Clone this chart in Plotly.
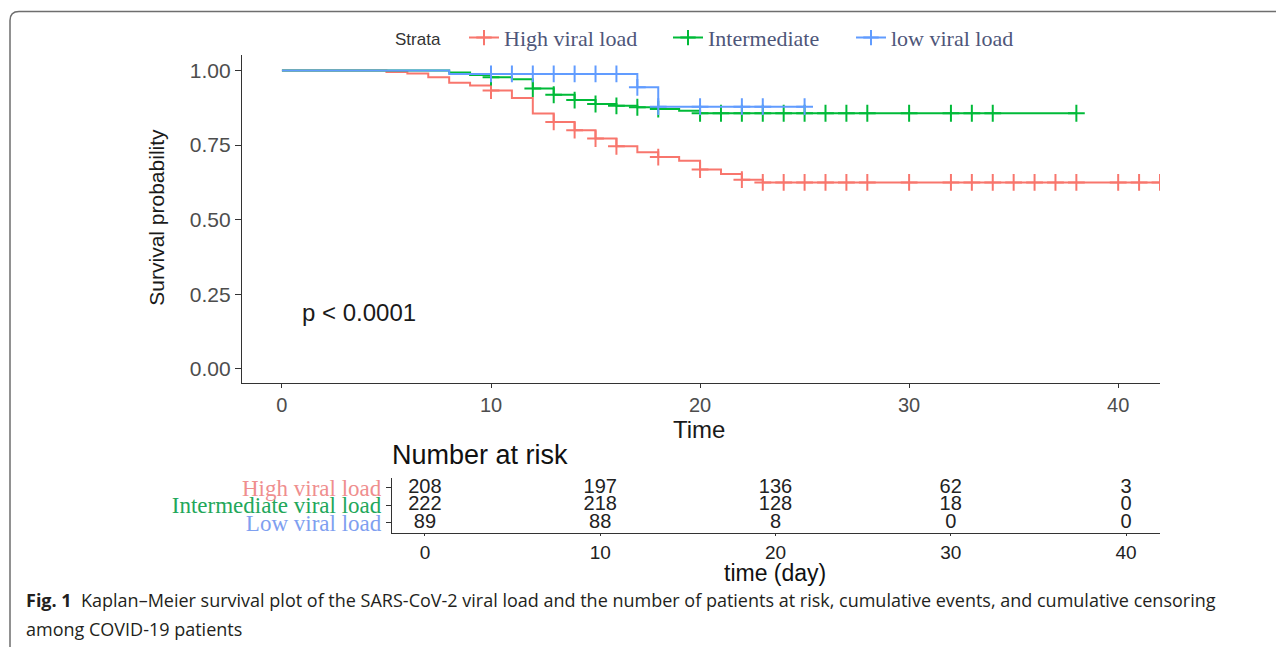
import plotly.graph_objects as go

# ---------------- data ----------------
groups = ["High viral load", "Intermediate", "low viral load"]
table_labels = ["High viral load", "Intermediate viral load", "Low viral load"]
colors = ["#F8766D", "#00BA38", "#619CFF"]
label_colors = ["#EF8E8E", "#22A75A", "#7FA0F0"]

high_event_t = [5, 6, 7, 8, 9, 10, 11, 12, 13, 14, 15, 16, 17, 18, 19, 20, 21, 22, 23]
high_event_s = [0.995, 0.990, 0.978, 0.959, 0.950, 0.933, 0.908, 0.856, 0.828, 0.800,
                0.772, 0.746, 0.726, 0.710, 0.698, 0.668, 0.653, 0.634, 0.625]
high_censor_t = [10, 13, 14, 15, 16, 18, 20, 22, 23, 24, 25, 26, 27, 28, 30, 32, 33, 34,
                 35, 36, 37, 38, 40, 41, 42]

int_event_t = [8, 9, 10, 11, 12, 13, 14, 15, 16, 17, 18, 19, 20]
int_event_s = [0.994, 0.985, 0.978, 0.971, 0.940, 0.919, 0.901, 0.888, 0.882, 0.877,
               0.871, 0.865, 0.857]
int_censor_t = [10, 12, 13, 14, 15, 16, 17, 18, 20, 21, 22, 23, 24, 25, 26, 27, 28, 30,
                32, 33, 34, 38]

low_event_t = [8, 17, 18]
low_event_s = [0.989, 0.944, 0.879]
low_censor_t = [10, 11, 12, 13, 14, 15, 16, 17, 18, 20, 22, 23, 25]

risk_times = [0, 10, 20, 30, 40]
risk_high = [208, 197, 136, 62, 3]
risk_int = [222, 218, 128, 18, 0]
risk_low = [89, 88, 8, 0, 0]

p_text = "p < 0.0001"
caption1 = "<b>Fig. 1</b>  Kaplan–Meier survival plot of the SARS-CoV-2 viral load and the number of patients at risk, cumulative events, and cumulative censoring"
caption2 = "among COVID-19 patients"

# ---------------- layout helpers (page body has an 8px margin) ----------------
OFF = 8
W, H = 1284 - OFF, 647 - OFF
def px(x):
    return (x - OFF) / W
def py(y):
    return 1 - (y - OFF) / H

def surv_at(t, ev_t, ev_s):
    s = 1.0
    for et, es in zip(ev_t, ev_s):
        if et <= t:
            s = es
    return s

series = [
    (high_event_t, high_event_s, high_censor_t),
    (int_event_t, int_event_s, int_censor_t),
    (low_event_t, low_event_s, low_censor_t),
]

fig = go.Figure()

for (ev_t, ev_s, c_t), col in zip(series, colors):
    end_t = max(c_t + ev_t)
    xs = [0] + ev_t + [end_t]
    ys = [1.0] + ev_s + [ev_s[-1]]
    fig.add_trace(go.Scatter(x=xs, y=ys, mode="lines", line=dict(color=col, width=2, shape="hv"),
                             showlegend=False, hoverinfo="skip", xaxis="x", yaxis="y"))
    fig.add_trace(go.Scatter(x=c_t, y=[surv_at(t, ev_t, ev_s) for t in c_t], mode="markers",
                             marker=dict(symbol="cross-thin", size=12, line=dict(width=2, color=col), color=col),
                             showlegend=False, hoverinfo="skip", xaxis="x", yaxis="y"))

# legend entries (one legend per entry so each can be placed like the reference)
legend_names = ["legend", "legend2", "legend3"]
legend_text_x = [506, 710, 893]
for name, col, lg in zip(groups, colors, legend_names):
    fig.add_trace(go.Scatter(x=[None], y=[None], mode="lines+markers", name=name, legend=lg,
                             line=dict(color=col, width=2),
                             marker=dict(symbol="cross-thin", size=11, line=dict(width=2, color=col), color=col),
                             xaxis="x", yaxis="y"))

# risk table
for row, vals in zip([3, 2, 1], [risk_high, risk_int, risk_low]):
    fig.add_trace(go.Scatter(x=risk_times, y=[row] * len(risk_times), mode="text",
                             text=[str(v) for v in vals],
                             textfont=dict(family="Liberation Sans, Arial", size=20, color="#222222"),
                             showlegend=False, hoverinfo="skip", xaxis="x2", yaxis="y2", cliponaxis=False))

axis_common = dict(showgrid=False, zeroline=False, showline=True, linecolor="#333333", linewidth=1.3,
                   ticks="outside", tickcolor="#333333", tickwidth=1.3)

legend_style = dict(orientation="h", xanchor="left", yanchor="middle", y=py(37),
                    bgcolor="rgba(0,0,0,0)",
                    font=dict(family="Liberation Serif, Times New Roman", size=22, color="#4e5679"))

fig.update_layout(
    width=W, height=H,
    margin=dict(l=0, r=0, t=0, b=0),
    paper_bgcolor="white", plot_bgcolor="white",
    font=dict(family="Liberation Sans, Arial", color="#222222"),
    xaxis=dict(domain=[px(242), px(1160)], range=[-1.91, 42.0], anchor="y",
               tickvals=risk_times, ticklen=4,
               tickfont=dict(size=20, color="#4d4d4d"), **axis_common),
    yaxis=dict(domain=[py(384), py(54)], range=[-0.0467, 1.0533], anchor="x",
               tickvals=[0, 0.25, 0.5, 0.75, 1.0], ticktext=["0.00", "0.25", "0.50", "0.75", "1.00"],
               ticklen=6, tickfont=dict(size=21, color="#4d4d4d"), **axis_common),
    xaxis2=dict(domain=[px(392), px(1160)], range=[-1.88, 41.94], anchor="y2",
                tickvals=risk_times, ticklen=2,
                tickfont=dict(size=19, color="#222222"), **axis_common),
    yaxis2=dict(domain=[py(535), py(479.5)], range=[0.43, 3.6], anchor="x2",
                tickvals=[3, 2, 1],
                ticktext=[f"<span style='color:{c}'>{t}</span>" for t, c in zip(table_labels, label_colors)],
                ticklen=5, tickfont=dict(family="Liberation Serif, Times New Roman", size=23),
                **axis_common),
    legend=dict(x=px(legend_text_x[0] - 42), **legend_style),
    legend2=dict(x=px(legend_text_x[1] - 42), **legend_style),
    legend3=dict(x=px(legend_text_x[2] - 42), **legend_style),
    shapes=[dict(type="path", xref="paper", yref="paper",
                 path=f"M {px(10)},{-0.05} L {px(10)},{py(10.5) - 9 / H} Q {px(10)},{py(10.5)} {px(19)},{py(10.5)} L 1.05,{py(10.5)}",
                 line=dict(color="#6e6e6e", width=1.5))],
    annotations=[
        dict(text="Strata", x=px(393), y=py(39), xref="paper", yref="paper",
             xanchor="left", yanchor="middle", showarrow=False,
             font=dict(size=17, color="#333333")),
        dict(text="Survival probability", x=px(157), y=py(218), xref="paper", yref="paper",
             xanchor="center", yanchor="middle",
             textangle=-90, showarrow=False, font=dict(size=21, color="#1a1a1a")),
        dict(text="Time", x=px(699), y=py(431), xref="paper", yref="paper",
             xanchor="center", yanchor="middle",
             showarrow=False, font=dict(size=24, color="#1a1a1a")),
        dict(text=p_text, x=0.85, y=0.19, xref="x", yref="y", xanchor="left", yanchor="middle",
             showarrow=False, font=dict(size=24, color="#1a1a1a")),
        dict(text="Number at risk", x=px(390), y=py(457), xref="paper", yref="paper",
             xanchor="left", yanchor="middle",
             showarrow=False, font=dict(size=27, color="#111111")),
        dict(text="time (day)", x=px(775), y=py(576), xref="paper", yref="paper",
             xanchor="center", yanchor="middle",
             showarrow=False, font=dict(size=23, color="#111111")),
        dict(text=caption1, x=px(24), y=py(603), xref="paper", yref="paper",
             xanchor="left", yanchor="middle",
             showarrow=False, font=dict(family="Open Sans", size=18, color="#231f20")),
        dict(text=caption2, x=px(24), y=py(632), xref="paper", yref="paper",
             xanchor="left", yanchor="middle",
             showarrow=False, font=dict(family="Open Sans", size=18, color="#231f20")),
    ],
)

fig.write_html("out.html")
